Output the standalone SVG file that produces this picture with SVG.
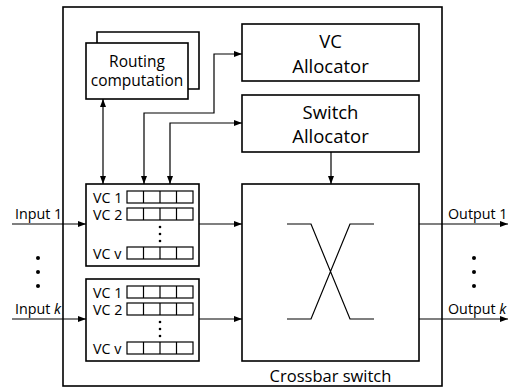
<svg xmlns="http://www.w3.org/2000/svg" width="509" height="389" viewBox="0 0 509 389">
<defs>
<marker id="ah" viewBox="0 0 8 6" refX="8" refY="3" markerWidth="8" markerHeight="6" markerUnits="userSpaceOnUse" orient="auto-start-reverse">
<path d="M0,0 L8,3 L0,6 Z" fill="#000"/>
</marker>
<style>
.box{fill:#fff;stroke:#000;stroke-width:1.6}
.cell{fill:#fff;stroke:#000;stroke-width:1.2}
.ln{fill:none;stroke:#000;stroke-width:1.2}
.arr{fill:none;stroke:#000;stroke-width:1.2;marker-end:url(#ah)}
.arr2{fill:none;stroke:#000;stroke-width:1.2;marker-end:url(#ah);marker-start:url(#ah)}
text{font-family:"Open Sans","Liberation Sans",sans-serif;fill:#000}
.big{font-size:18.5px;text-anchor:middle}
.rt{font-size:15.5px;text-anchor:middle}
.io{font-size:14.3px}
.vc{font-size:14.3px}
.cb{font-size:16.5px;text-anchor:middle}
</style>
</defs>
<rect id="router" x="63" y="7" width="379" height="379" class="box"/>
<g id="routing">
<path d="M97,43 V32 H199 V89 H188" class="box"/>
<rect x="86" y="43" width="102" height="56" class="box"/>
<text class="rt" x="137" y="67">Routing</text>
<text class="rt" x="137" y="86">computation</text>
</g>
<g id="vcalloc">
<rect x="242" y="24" width="177" height="57" class="box"/>
<text class="big" x="330.5" y="48">VC</text>
<text class="big" x="330.5" y="73">Allocator</text>
</g>
<g id="swalloc">
<rect x="242" y="95" width="177" height="57" class="box"/>
<text class="big" x="330.5" y="119">Switch</text>
<text class="big" x="330.5" y="143">Allocator</text>
</g>
<g id="crossbar">
<rect x="242" y="184" width="177" height="177" class="box"/>
<path d="M287,224 H311 L350,319 H374 M374,224 H350 L311,319 H287" class="ln"/>
<text class="cb" x="330.5" y="382">Crossbar switch</text>
</g>
<g id="buffer1">
<rect x="86" y="184" width="113" height="82" class="box"/>
<text class="vc" x="93" y="203">VC 1</text>
<text class="vc" x="93" y="220">VC 2</text>
<text class="vc" x="93" y="259">VC v</text>
<g class="cell">
<rect x="127" y="191" width="66" height="12"/>
<rect x="127" y="208" width="66" height="12"/>
<rect x="127" y="247" width="66" height="12"/>
</g>
<path d="M143.5,191 V203 M160,191 V203 M176.5,191 V203 M143.5,208 V220 M160,208 V220 M176.5,208 V220 M143.5,247 V259 M160,247 V259 M176.5,247 V259" class="ln"/>
<g fill="#000"><circle cx="160" cy="227" r="1.3"/><circle cx="160" cy="234" r="1.3"/><circle cx="160" cy="241" r="1.3"/></g>
</g>
<g id="buffer2">
<rect x="86" y="279" width="113" height="82" class="box"/>
<text class="vc" x="93" y="298">VC 1</text>
<text class="vc" x="93" y="315">VC 2</text>
<text class="vc" x="93" y="354">VC v</text>
<g class="cell">
<rect x="127" y="286" width="66" height="12"/>
<rect x="127" y="303" width="66" height="12"/>
<rect x="127" y="342" width="66" height="12"/>
</g>
<path d="M143.5,286 V298 M160,286 V298 M176.5,286 V298 M143.5,303 V315 M160,303 V315 M176.5,303 V315 M143.5,342 V354 M160,342 V354 M176.5,342 V354" class="ln"/>
<g fill="#000"><circle cx="160" cy="322" r="1.3"/><circle cx="160" cy="329" r="1.3"/><circle cx="160" cy="336" r="1.3"/></g>
</g>
<g id="labels">
<text class="io" x="15" y="219">Input 1</text>
<text class="io" x="15" y="314">Input <tspan font-style="italic">k</tspan></text>
<text class="io" x="448" y="219">Output 1</text>
<text class="io" x="448" y="314">Output <tspan font-style="italic">k</tspan></text>
<g fill="#000">
<circle cx="38" cy="258" r="2"/><circle cx="38" cy="272" r="2"/><circle cx="38" cy="286" r="2"/>
<circle cx="474" cy="258" r="2"/><circle cx="474" cy="272" r="2"/><circle cx="474" cy="286" r="2"/>
</g>
</g>
<g id="connectors">
<path d="M103,99 V184" class="arr2"/>
<path d="M144,184 V113 H214 V54 H242" class="arr2"/>
<path d="M170,184 V123 H242" class="arr2"/>
<path d="M331,152 V184" class="arr"/>
<path d="M12,224 H86" class="arr"/>
<path d="M12,319 H86" class="arr"/>
<path d="M199,224 H242" class="arr"/>
<path d="M199,319 H242" class="arr"/>
<path d="M419,224 H508" class="arr"/>
<path d="M419,319 H508" class="arr"/>
</g>
</svg>
